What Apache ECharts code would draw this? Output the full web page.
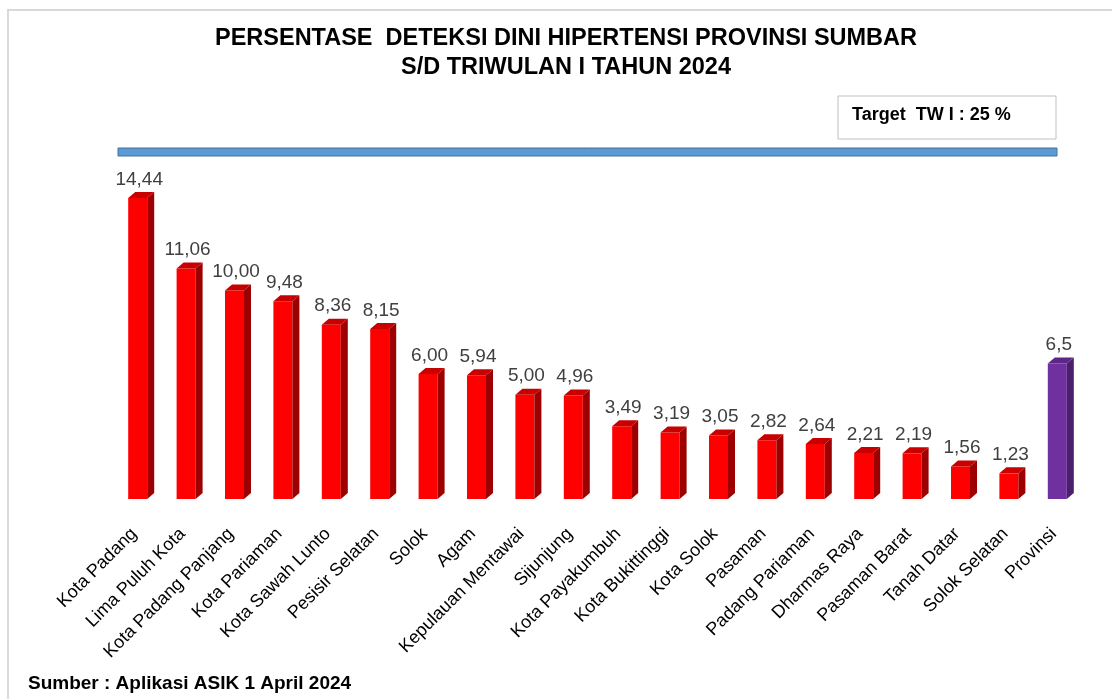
<!DOCTYPE html>
<html>
<head>
<meta charset="utf-8">
<script src="https://cdn.jsdelivr.net/npm/echarts@6/dist/echarts.min.js"></script>
<style>
  html, body { margin: 0; padding: 0; background: #fff; }
  #main { width: 1112px; height: 699px; }
</style>
</head>
<body>
<div id="main"></div>
<script>
// data
var categories = ['Kota Padang', 'Lima Puluh Kota', 'Kota Padang Panjang', 'Kota Pariaman', 'Kota Sawah Lunto',
  'Pesisir Selatan', 'Solok', 'Agam', 'Kepulauan Mentawai', 'Sijunjung', 'Kota Payakumbuh', 'Kota Bukittinggi',
  'Kota Solok', 'Pasaman', 'Padang Pariaman', 'Dharmas Raya', 'Pasaman Barat', 'Tanah Datar', 'Solok Selatan', 'Provinsi'];
var values = [14.44, 11.06, 10.00, 9.48, 8.36, 8.15, 6.00, 5.94, 5.00, 4.96, 3.49, 3.19, 3.05, 2.82, 2.64, 2.21, 2.19, 1.56, 1.23, 6.5];
var decimals = [2, 2, 2, 2, 2, 2, 2, 2, 2, 2, 2, 2, 2, 2, 2, 2, 2, 2, 2, 1];
var targetText = 'Target  TW I : 25 %';

var FONT = '"Liberation Sans", Arial, sans-serif';
var red = { front: '#ff0000', side: '#9c0000', top: '#c80000' };
var purple = { front: '#7030a0', side: '#4a1f6c', top: '#5c2787' };

function fmt(i) {
  return values[i].toFixed(decimals[i]).replace('.', ',');
}

// 3d-ish bar like excel
function renderBar(params, api) {
  var idx = api.value(0);
  var top = api.coord([idx, api.value(1)]);
  var base = api.coord([idx, 0]);
  var cx = top[0];
  var fw = 19, dx = 7, dy = 6;
  var x0 = cx - 13, x1 = x0 + fw;
  var c = categories[idx] === 'Provinsi' ? purple : red;
  return {
    type: 'group',
    children: [
      { type: 'rect', shape: { x: x0, y: top[1], width: fw, height: base[1] - top[1] }, style: { fill: c.front } },
      { type: 'polygon', shape: { points: [[x1, top[1]], [x1 + dx, top[1] - dy], [x1 + dx, base[1] - dy], [x1, base[1]]] }, style: { fill: c.side } },
      { type: 'polygon', shape: { points: [[x0, top[1]], [x0 + dx, top[1] - dy], [x1 + dx, top[1] - dy], [x1, top[1]]] }, style: { fill: c.top } },
      { type: 'text', style: { x: cx - 2, y: top[1] - dy - 3, text: fmt(idx), align: 'center', verticalAlign: 'bottom',
          font: '19px ' + FONT, fill: '#404040' } }
    ]
  };
}

var chart = echarts.init(document.getElementById('main'));
chart.setOption({
  backgroundColor: '#fff',
  animation: false,
  title: {
    text: 'PERSENTASE  DETEKSI DINI HIPERTENSI PROVINSI SUMBAR\nS/D TRIWULAN I TAHUN 2024',
    left: 561, top: 19, textAlign: 'center',
    textStyle: { fontFamily: FONT, fontSize: 23.5, fontWeight: 'bold', color: '#000', lineHeight: 29 }
  },
  grid: { left: 117, right: 27, top: 82, bottom: 200 },
  xAxis: {
    type: 'category',
    data: categories,
    axisLine: { show: false },
    axisTick: { show: false },
    axisLabel: { rotate: 45, interval: 0, margin: 25, padding: [0, 10, 0, 0],
      fontFamily: FONT, fontSize: 18, color: '#000' }
  },
  yAxis: { type: 'value', min: 0, max: 20, show: false },
  series: [{
    type: 'custom',
    renderItem: renderBar,
    data: values.map(function (v, i) { return [i, v]; }),
    encode: { x: 0, y: 1 }
  }],
  graphic: [
    { type: 'polyline', shape: { points: [[8, 699], [8, 10], [1112, 10]] }, style: { stroke: '#d9d9d9', lineWidth: 2, fill: null } },
    { type: 'rect', shape: { x: 118, y: 148, width: 939, height: 8 }, style: { fill: '#5b9bd5', stroke: '#41719c', lineWidth: 1 } },
    { type: 'rect', shape: { x: 838, y: 96, width: 218, height: 43 }, style: { fill: '#fff', stroke: '#bfbfbf', lineWidth: 1 } },
    { type: 'text', style: { x: 852, y: 115, text: targetText, verticalAlign: 'middle', font: 'bold 18px ' + FONT, fill: '#000' } },
    { type: 'text', style: { x: 28, y: 684, text: 'Sumber : Aplikasi ASIK 1 April 2024', verticalAlign: 'middle', font: 'bold 19px ' + FONT, fill: '#000' } }
  ]
});
</script>
</body>
</html>
